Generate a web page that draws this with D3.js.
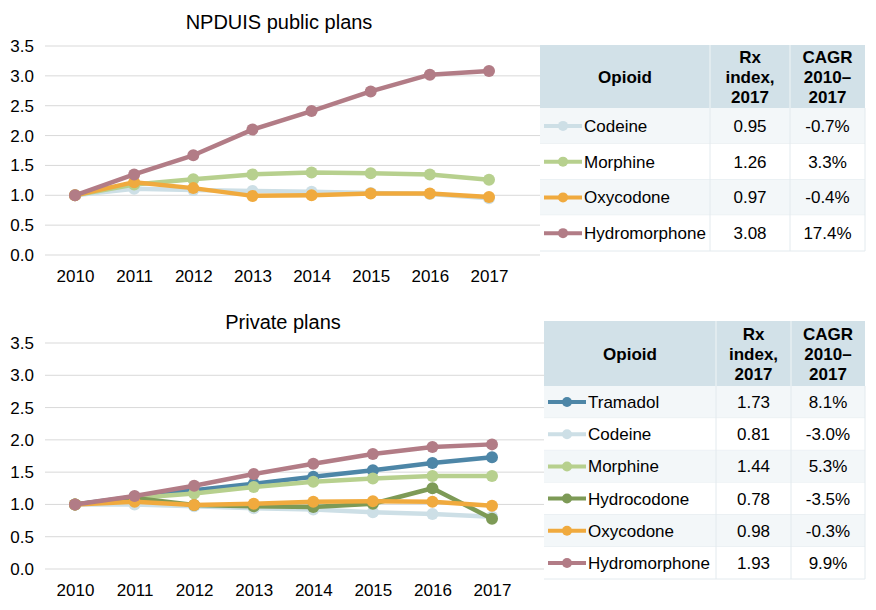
<!DOCTYPE html>
<html><head><meta charset="utf-8">
<script src="https://cdn.jsdelivr.net/npm/d3@7"></script>
<style>body{margin:0;background:#fff}svg{display:block}</style>
</head><body>
<svg id="c" width="876" height="610"></svg>
<script>
const years = [2010, 2011, 2012, 2013, 2014, 2015, 2016, 2017];
const yTicks = [0, 0.5, 1.0, 1.5, 2.0, 2.5, 3.0, 3.5];

// Public plans
const pubNames = ["Codeine", "Morphine", "Oxycodone", "Hydromorphone"];
const pubCodeine = [1.0, 1.11, 1.09, 1.07, 1.06, 1.04, 1.02, 0.95];
const pubMorphine = [1.0, 1.18, 1.27, 1.35, 1.38, 1.37, 1.35, 1.26];
const pubOxycodone = [1.0, 1.22, 1.12, 0.99, 1.00, 1.03, 1.03, 0.97];
const pubHydromorphone = [1.0, 1.35, 1.67, 2.10, 2.41, 2.74, 3.02, 3.08];
const pubIndex = ["0.95", "1.26", "0.97", "3.08"];
const pubCagr = ["-0.7%", "3.3%", "-0.4%", "17.4%"];

// Private plans
const privNames = ["Tramadol", "Codeine", "Morphine", "Hydrocodone", "Oxycodone", "Hydromorphone"];
const privTramadol = [1.0, 1.12, 1.22, 1.32, 1.43, 1.53, 1.64, 1.73];
const privCodeine = [1.0, 1.00, 0.97, 0.94, 0.92, 0.88, 0.85, 0.81];
const privMorphine = [1.0, 1.10, 1.17, 1.27, 1.35, 1.40, 1.44, 1.44];
const privHydrocodone = [1.0, 1.10, 0.99, 0.97, 0.96, 1.01, 1.25, 0.78];
const privOxycodone = [1.0, 1.04, 0.99, 1.01, 1.04, 1.05, 1.04, 0.98];
const privHydromorphone = [1.0, 1.13, 1.29, 1.47, 1.63, 1.78, 1.89, 1.93];
const privIndex = ["1.73", "0.81", "1.44", "0.78", "0.98", "1.93"];
const privCagr = ["8.1%", "-3.0%", "5.3%", "-3.5%", "-0.3%", "9.9%"];

const colors = {
  Codeine: "#cddfe6",
  Morphine: "#b7d08e",
  Oxycodone: "#f0aa3e",
  Hydromorphone: "#b27c86",
  Tramadol: "#4d86a7",
  Hydrocodone: "#7d9a56"
};

const svg = d3.select("#c");
const FONT = "'Liberation Sans', Arial, sans-serif";
const FS = 17;

function drawChart(opt) {
  const g = svg.append("g");
  const x = d3.scalePoint().domain(years).range([opt.x0, opt.x1]);
  const y = d3.scaleLinear().domain([0, 3.5]).range([opt.y0, opt.y1]);
  g.append("g").selectAll("line").data(yTicks).join("line")
    .attr("x1", opt.gx0).attr("x2", opt.gx1)
    .attr("y1", d => y(d)).attr("y2", d => y(d))
    .attr("stroke", "#d9d9d9").attr("stroke-width", 1);
  const ya = d3.axisLeft(y).tickValues(yTicks).tickFormat(d3.format(".1f")).tickSize(0).tickPadding(0);
  const yg = g.append("g").attr("transform", `translate(34,0)`).call(ya);
  yg.select(".domain").remove();
  yg.selectAll("text").attr("font-family", FONT).attr("font-size", FS).attr("fill", "#000");
  const xa = d3.axisBottom(x).tickSize(0).tickPadding(0);
  const xg = g.append("g").attr("transform", `translate(0,${opt.xl})`).call(xa);
  xg.select(".domain").remove();
  xg.selectAll("text").attr("font-family", FONT).attr("font-size", FS).attr("fill", "#000");
  g.append("text").attr("x", opt.tx).attr("y", opt.ty).attr("text-anchor", "middle")
    .attr("font-family", FONT).attr("font-size", 20).attr("fill", "#000").text(opt.title);
  const line = d3.line().x((d, i) => x(years[i])).y(d => y(d));
  opt.series.forEach(s => {
    g.append("path").datum(s.values).attr("d", line).attr("fill", "none")
      .attr("stroke", colors[s.name]).attr("stroke-width", 4.5).attr("stroke-linejoin", "round");
    g.append("g").selectAll("circle").data(s.values).join("circle")
      .attr("cx", (d, i) => x(years[i])).attr("cy", d => y(d)).attr("r", 6)
      .attr("fill", colors[s.name]);
  });
}

function drawTable(opt) {
  const g = svg.append("g");
  const [c0, c1, c2, c3] = opt.cols;
  g.append("rect").attr("x", c0).attr("y", opt.top).attr("width", c3 - c0).attr("height", opt.hb - opt.top)
    .attr("fill", "#d2e1e8");
  g.append("line").attr("x1", c1).attr("x2", c1).attr("y1", opt.top).attr("y2", opt.hb).attr("stroke", "#e6eef2").attr("stroke-width", 1.5);
  g.append("line").attr("x1", c2).attr("x2", c2).attr("y1", opt.top).attr("y2", opt.hb).attr("stroke", "#e6eef2").attr("stroke-width", 1.5);
  const hf = (sel) => sel.attr("font-family", FONT).attr("font-size", FS).attr("font-weight", "bold").attr("text-anchor", "middle").attr("fill", "#000");
  const hm = (opt.top + opt.hb) / 2;
  hf(g.append("text")).attr("x", (c0 + c1) / 2).attr("y", hm + 6).text("Opioid");
  [["Rx", "index,", "2017"], ["CAGR", "2010–", "2017"]].forEach((lines, k) => {
    const cx = k === 0 ? (c1 + c2) / 2 : (c2 + c3) / 2;
    lines.forEach((t, j) => hf(g.append("text")).attr("x", cx).attr("y", hm + 6 + (j - 1) * 20).text(t));
  });
  const n = opt.names.length;
  const rh = (opt.bottom - opt.hb) / n;
  opt.names.forEach((name, i) => {
    const ry = opt.hb + i * rh;
    g.append("rect").attr("x", c0).attr("y", ry).attr("width", c3 - c0).attr("height", rh)
      .attr("fill", i % 2 === 0 ? "#f3f7f9" : "#ffffff");
    g.append("line").attr("x1", c0).attr("x2", c3).attr("y1", ry + rh).attr("y2", ry + rh)
      .attr("stroke", "#e3eaee").attr("stroke-width", 1);
    const my = ry + rh / 2;
    g.append("line").attr("x1", c0 + 4).attr("x2", c0 + 42).attr("y1", my).attr("y2", my)
      .attr("stroke", colors[name]).attr("stroke-width", 4);
    g.append("circle").attr("cx", c0 + 23).attr("cy", my).attr("r", 5).attr("fill", colors[name]);
    g.append("text").attr("x", c0 + 44).attr("y", my + 6).attr("font-family", FONT).attr("font-size", FS).attr("fill", "#000").text(name);
    g.append("text").attr("x", (c1 + c2) / 2).attr("y", my + 6).attr("text-anchor", "middle").attr("font-family", FONT).attr("font-size", FS).attr("fill", "#000").text(opt.index[i]);
    g.append("text").attr("x", (c2 + c3) / 2).attr("y", my + 6).attr("text-anchor", "middle").attr("font-family", FONT).attr("font-size", FS).attr("fill", "#000").text(opt.cagr[i]);
  });
  g.append("line").attr("x1", c1).attr("x2", c1).attr("y1", opt.hb).attr("y2", opt.bottom).attr("stroke", "#e3eaee");
  g.append("line").attr("x1", c2).attr("x2", c2).attr("y1", opt.hb).attr("y2", opt.bottom).attr("stroke", "#e3eaee");
  g.append("line").attr("x1", c3).attr("x2", c3).attr("y1", opt.hb).attr("y2", opt.bottom).attr("stroke", "#e3eaee");
}

drawChart({
  title: "NPDUIS public plans", tx: 279, ty: 29,
  x0: 75, x1: 489, y0: 255, y1: 46, gx0: 45, gx1: 540, xl: 270,
  series: [
    { name: "Codeine", values: pubCodeine },
    { name: "Morphine", values: pubMorphine },
    { name: "Oxycodone", values: pubOxycodone },
    { name: "Hydromorphone", values: pubHydromorphone }
  ]
});
drawTable({
  cols: [540, 710, 790, 865], top: 45, hb: 108, bottom: 251,
  names: pubNames, index: pubIndex, cagr: pubCagr
});

drawChart({
  title: "Private plans", tx: 283, ty: 329,
  x0: 75, x1: 492, y0: 569, y1: 343, gx0: 45, gx1: 544, xl: 584,
  series: [
    { name: "Tramadol", values: privTramadol },
    { name: "Codeine", values: privCodeine },
    { name: "Morphine", values: privMorphine },
    { name: "Hydrocodone", values: privHydrocodone },
    { name: "Oxycodone", values: privOxycodone },
    { name: "Hydromorphone", values: privHydromorphone }
  ]
});
drawTable({
  cols: [544, 716, 791, 865], top: 321, hb: 386, bottom: 579,
  names: privNames, index: privIndex, cagr: privCagr
});
</script>
</body></html>
